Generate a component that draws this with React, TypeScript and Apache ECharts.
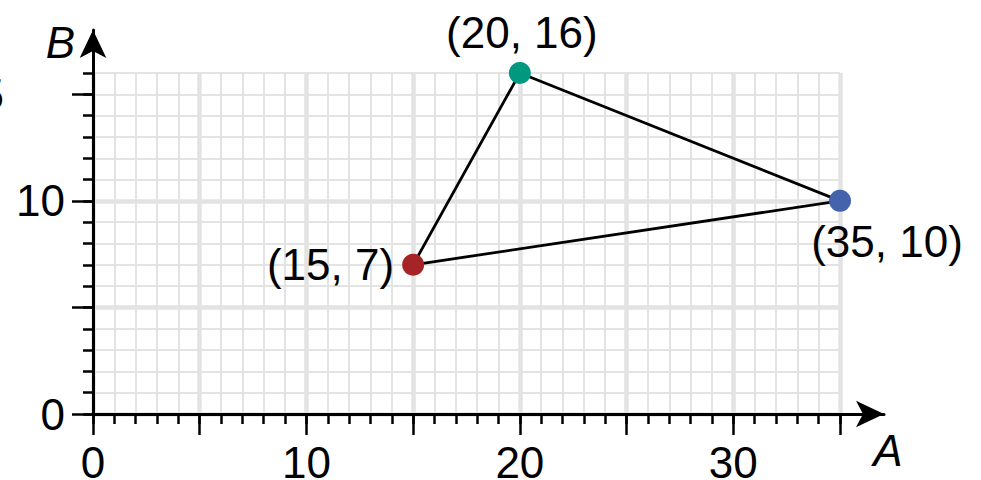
import React, { useEffect, useRef } from "react";
import * as echarts from "echarts";

// ---- data ----
const pointX = [15, 20, 35];
const pointY = [7, 16, 10];
const triangleOrder = [0, 1, 2, 0];
const xTickLabels = [0, 10, 20, 30];
const yTickLabels = [0, 10, 15];
const xMajorTicks = [0, 5, 10, 15, 20, 25, 30, 35];
const yMajorTicks = [0, 5, 10, 15];

// ---- styles ----
const pointColors = ["#a72426", "#00997f", "#4563ad"];
const labelPositions = ["left", "top", "bottom"];
const labelOffsets = [[0, 0], [2, 0], [47, 0]];
const FONT = "'Liberation Sans', Arial, sans-serif";
const GRID_C = "#e3e3e3";

export default function App() {
  const ref = useRef<HTMLDivElement>(null);
  useEffect(() => {
    if (!ref.current) return;
    const chart = echarts.init(ref.current, null, { renderer: "svg" });
    const g0 = { left: 93, right: 141, top: 73, bottom: 66, containLabel: false, outerBoundsMode: "none" };
    const g1 = { left: 93, right: 97, top: 30, bottom: 66, containLabel: false, outerBoundsMode: "none" };
    const tickStyle = { color: "#000", width: 2.5 };
    const option: any = {
      animation: false,
      grid: [g0, g1],
      xAxis: [
        {
          gridIndex: 0, type: "value", position: "bottom", offset: 0, min: 0, max: 35, interval: 1,
          axisLine: { show: false },
          axisTick: { show: true, inside: false, length: 10, lineStyle: tickStyle },
          axisLabel: { show: false },
          splitLine: { show: true, lineStyle: { color: GRID_C, width: 2 } },
        },
        {
          gridIndex: 0, type: "value", position: "bottom", offset: 0, min: 0, max: 35, interval: 5,
          axisLine: { show: false },
          axisTick: { show: true, length: 21, lineStyle: tickStyle, customValues: xMajorTicks },
          axisLabel: {
            show: true, customValues: xTickLabels, margin: 26,
            fontSize: 44, fontFamily: FONT, color: "#000",
          },
          splitLine: { show: true, lineStyle: { color: GRID_C, width: 4.5 } },
        },
        {
          gridIndex: 1, type: "value", position: "bottom", min: 0, max: 1,
          axisLine: {
            show: true, symbol: ["none", "arrow"], symbolSize: [20, 28],
            lineStyle: { color: "#000", width: 3 },
          },
          axisTick: { show: false }, axisLabel: { show: false }, splitLine: { show: false },
          name: "A", nameLocation: "end", nameGap: 4,
          nameTextStyle: {
            fontSize: 44, fontStyle: "italic", fontFamily: FONT, color: "#000",
            align: "center", verticalAlign: "top", padding: [14, 0, 0, 0],
          },
        },
      ],
      yAxis: [
        {
          gridIndex: 0, type: "value", position: "left", offset: 0, min: 0, max: 16, interval: 1,
          axisLine: { show: false },
          axisTick: { show: true, length: 10, lineStyle: tickStyle },
          axisLabel: { show: false },
          splitLine: { show: true, lineStyle: { color: GRID_C, width: 2 } },
        },
        {
          gridIndex: 0, type: "value", position: "left", offset: 0, min: 0, max: 16, interval: 5,
          axisLine: { show: false },
          axisTick: { show: true, length: 21, lineStyle: tickStyle, customValues: yMajorTicks },
          axisLabel: {
            show: true, customValues: yTickLabels, margin: 28,
            fontSize: 44, fontFamily: FONT, color: "#000",
            formatter: (v: number) => (v === 15 ? "{far|15}" : String(v)),
            rich: { far: { fontSize: 44, fontFamily: FONT, color: "#000", padding: [0, 61, 0, 0] } },
          },
          splitLine: { show: true, showMaxLine: false, lineStyle: { color: GRID_C, width: 4.5 } },
        },
        {
          gridIndex: 1, type: "value", position: "left", min: 0, max: 1,
          axisLine: {
            show: true, symbol: ["none", "arrow"], symbolSize: [20, 28],
            lineStyle: { color: "#000", width: 3 },
          },
          axisTick: { show: false }, axisLabel: { show: false }, splitLine: { show: false },
          name: "B", nameLocation: "end", nameGap: -12,
          nameTextStyle: {
            fontSize: 44, fontStyle: "italic", fontFamily: FONT, color: "#000",
            align: "right", verticalAlign: "middle", padding: [0, 18, 0, 0],
          },
        },
      ],
      series: [
        {
          type: "line", xAxisIndex: 0, yAxisIndex: 0,
          data: triangleOrder.map((i) => [pointX[i], pointY[i]]),
          symbol: "none", lineStyle: { color: "#000", width: 2.8 }, z: 3,
        },
        {
          type: "scatter", xAxisIndex: 0, yAxisIndex: 0, symbolSize: 22, z: 4,
          data: pointX.map((x, i) => ({
            value: [x, pointY[i]],
            itemStyle: { color: pointColors[i], opacity: 1 },
            label: { position: labelPositions[i], offset: labelOffsets[i] },
          })),
          label: {
            show: true, distance: 8, fontSize: 44, fontFamily: FONT, color: "#000",
            formatter: (p: any) => `(${p.value[0]}, ${p.value[1]})`,
          },
        },
      ],
    };
    chart.setOption(option);
    return () => chart.dispose();
  }, []);
  return (
    <div
      ref={ref}
      style={{ position: "fixed", left: 0, top: 0, width: 981, height: 480, background: "#fff" }}
    />
  );
}
